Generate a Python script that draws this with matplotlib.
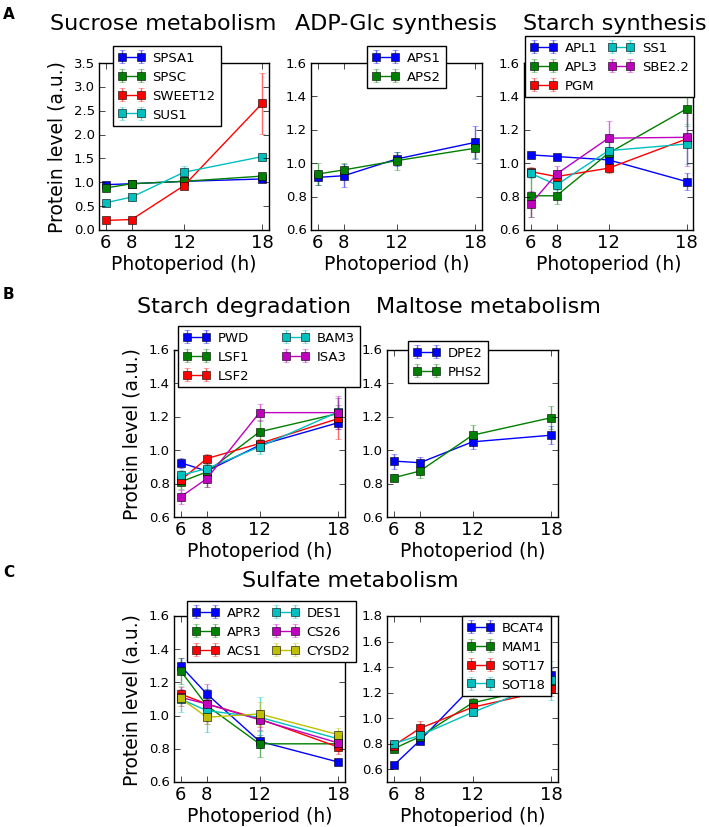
import numpy as np
import matplotlib
matplotlib.use("Agg")
import matplotlib.pyplot as plt

plt.style.use("classic")
plt.rcParams["font.family"] = ["DejaVu Sans"]
plt.rcParams["savefig.facecolor"] = "white"
plt.rcParams["figure.facecolor"] = "white"

W, H = 709, 828

photoperiod = [6, 8, 12, 18]

# --- panel A: sucrose metabolism
sucrose_genes = ["SPSA1", "SPSC", "SWEET12", "SUS1"]
sucrose_vals = [[0.95, 0.97, 1.02, 1.07],
                [0.88, 0.97, 1.02, 1.13],
                [0.20, 0.22, 0.93, 2.66],
                [0.57, 0.69, 1.21, 1.54]]
sucrose_err = [[0.03, 0.02, 0.03, 0.03],
               [0.05, 0.03, 0.05, 0.05],
               [0.03, 0.03, 0.05, 0.64],
               [0.03, 0.03, 0.13, 0.05]]

# --- panel A: ADP-Glc synthesis
adp_genes = ["APS1", "APS2"]
adp_vals = [[0.915, 0.925, 1.025, 1.125],
            [0.935, 0.96, 1.015, 1.09]]
adp_err = [[0.045, 0.07, 0.04, 0.10],
           [0.065, 0.04, 0.055, 0.06]]

# --- panel A: starch synthesis
synth_genes = ["APL1", "APL3", "PGM", "SS1", "SBE2.2"]
synth_vals = [[1.05, 1.04, 1.02, 0.89],
              [0.805, 0.805, 1.06, 1.325],
              [0.95, 0.92, 0.97, 1.145],
              [0.94, 0.87, 1.075, 1.115],
              [0.755, 0.935, 1.15, 1.155]]
synth_err = [[0.02, 0.015, 0.03, 0.05],
             [0.13, 0.05, 0.04, 0.10],
             [0.03, 0.03, 0.03, 0.03],
             [0.03, 0.03, 0.05, 0.12],
             [0.08, 0.05, 0.10, 0.17]]

# --- panel B: starch degradation
degr_genes = ["PWD", "LSF1", "LSF2", "BAM3", "ISA3"]
degr_vals = [[0.925, 0.875, 1.03, 1.165],
             [0.81, 0.87, 1.11, 1.22],
             [0.82, 0.95, 1.04, 1.19],
             [0.85, 0.89, 1.02, 1.23],
             [0.72, 0.83, 1.225, 1.225]]
degr_err = [[0.03, 0.03, 0.03, 0.04],
            [0.04, 0.09, 0.07, 0.05],
            [0.03, 0.03, 0.03, 0.12],
            [0.03, 0.03, 0.04, 0.08],
            [0.04, 0.05, 0.05, 0.10]]

# --- panel B: maltose metabolism
malt_genes = ["DPE2", "PHS2"]
malt_vals = [[0.935, 0.925, 1.05, 1.09],
             [0.835, 0.875, 1.09, 1.195]]
malt_err = [[0.045, 0.035, 0.045, 0.055],
            [0.02, 0.04, 0.06, 0.07]]

# --- panel C: sulfate metabolism
sulf_genes = ["APR2", "APR3", "ACS1", "DES1", "CS26", "CYSD2"]
sulf_vals = [[1.30, 1.13, 0.845, 0.72],
             [1.27, 1.06, 0.83, 0.83],
             [1.13, 1.07, 0.98, 0.81],
             [1.10, 1.03, 0.99, 0.86],
             [1.11, 1.07, 0.975, 0.835],
             [1.105, 0.99, 1.01, 0.885]]
sulf_err = [[0.05, 0.03, 0.04, 0.01],
            [0.08, 0.04, 0.08, 0.03],
            [0.04, 0.04, 0.05, 0.04],
            [0.08, 0.13, 0.12, 0.05],
            [0.05, 0.12, 0.06, 0.04],
            [0.05, 0.04, 0.07, 0.04]]

gluc_genes = ["BCAT4", "MAM1", "SOT17", "SOT18"]
gluc_vals = [[0.63, 0.825, 1.25, 1.34],
             [0.76, 0.855, 1.12, 1.26],
             [0.785, 0.92, 1.085, 1.225],
             [0.80, 0.865, 1.045, 1.295]]
gluc_err = [[0.02, 0.02, 0.05, 0.05],
            [0.02, 0.03, 0.04, 0.06],
            [0.02, 0.06, 0.04, 0.05],
            [0.03, 0.03, 0.03, 0.15]]

colors = ["b", "g", "r", "c", "m", "y"]

fig = plt.figure(figsize=(W / 100, H / 100), dpi=100)


def add_axes_px(x0, y0, x1, y1):
    return fig.add_axes([x0 / W, 1 - y1 / H, (x1 - x0) / W, (y1 - y0) / H])


def draw_panel(ax, genes, vals, errs, ylim, yticks, leg_xy, ncol=1,
               ylabel=True, leg_w=None):
    for i, g in enumerate(genes):
        line, caps, bars = ax.errorbar(photoperiod, vals[i], yerr=errs[i],
                                       color=colors[i], marker="s", ms=6,
                                       mec="k", mew=0.4, lw=1, capsize=2.5,
                                       elinewidth=1, label=g)
        for c in caps:
            c.set_alpha(0.6)
        for b in bars:
            b.set_alpha(0.6)
    ax.set_xlim(5.5, 18.5)
    ax.set_xticks(photoperiod)
    ax.set_ylim(*ylim)
    ax.set_yticks(yticks)
    ax.set_yticklabels(["%.1f" % t for t in yticks])
    ax.tick_params(axis="x", labelsize=13, pad=2)
    ax.tick_params(axis="y", labelsize=9.5, pad=3)
    ax.set_xlabel("Photoperiod (h)", fontsize=13.5, labelpad=2)
    if ylabel:
        ax.set_ylabel("Protein level (a.u.)", fontsize=13.5)
        ax.yaxis.set_label_coords(-0.19, 0.5)
    anchor = (leg_xy[0] / W, 1 - leg_xy[1] / H)
    extra = {}
    if leg_w is not None:
        anchor = (leg_xy[0] / W, 1 - leg_xy[1] / H - 0.2, leg_w / W, 0.2)
        extra["mode"] = "expand"
    leg = ax.legend(loc="upper left", ncol=ncol, fontsize=9.5,
                    bbox_to_anchor=anchor,
                    bbox_transform=fig.transFigure, borderaxespad=0,
                    handlelength=2.0, handletextpad=0.6, columnspacing=0.8,
                    borderpad=0.4, labelspacing=0.45, numpoints=2, **extra)
    leg.get_frame().set_linewidth(1.0)
    leg.set_zorder(10)
    return ax


# row A
axA1 = add_axes_px(99, 64, 269, 231)
draw_panel(axA1, sucrose_genes, sucrose_vals, sucrose_err, (0, 3.5),
           np.arange(0, 3.51, 0.5), (113, 47))
axA2 = add_axes_px(311, 64, 482, 231)
draw_panel(axA2, adp_genes, adp_vals, adp_err, (0.6, 1.6),
           np.arange(0.6, 1.61, 0.2), (367, 47), ylabel=False)
axA3 = add_axes_px(524, 64, 693, 231)
draw_panel(axA3, synth_genes, synth_vals, synth_err, (0.6, 1.6),
           np.arange(0.6, 1.61, 0.2), (525, 37), ncol=2, ylabel=False)

# row B
axB1 = add_axes_px(174, 351, 345, 518)
draw_panel(axB1, degr_genes, degr_vals, degr_err, (0.6, 1.6),
           np.arange(0.6, 1.61, 0.2), (178, 327), ncol=2, leg_w=182)
axB2 = add_axes_px(387, 351, 558, 518)
draw_panel(axB2, malt_genes, malt_vals, malt_err, (0.6, 1.6),
           np.arange(0.6, 1.61, 0.2), (408, 342), ylabel=False)

# row C
axC1 = add_axes_px(174, 617, 345, 783)
draw_panel(axC1, sulf_genes, sulf_vals, sulf_err, (0.6, 1.6),
           np.arange(0.6, 1.61, 0.2), (187, 602), ncol=2)
axC2 = add_axes_px(387, 617, 558, 783)
draw_panel(axC2, gluc_genes, gluc_vals, gluc_err, (0.5, 1.8),
           np.arange(0.6, 1.81, 0.2), (462, 617), ylabel=False)

# titles
title_kw = dict(fontsize=16, ha="center", va="baseline")
fig.text(163 / W, 1 - 30 / H, "Sucrose metabolism", **title_kw)
fig.text(396 / W, 1 - 30 / H, "ADP-Glc synthesis", **title_kw)
fig.text(615 / W, 1 - 30 / H, "Starch synthesis", **title_kw)
fig.text(244 / W, 1 - 313 / H, "Starch degradation", **title_kw)
fig.text(488 / W, 1 - 313 / H, "Maltose metabolism", **title_kw)
fig.text(350 / W, 1 - 587 / H, "Sulfate metabolism", **title_kw)

# panel letters
letter_kw = dict(fontsize=11, fontweight="bold", ha="left", va="top")
fig.text(3 / W, 1 - 7 / H, "A", **letter_kw)
fig.text(3 / W, 1 - 287 / H, "B", **letter_kw)
fig.text(3 / W, 1 - 565 / H, "C", **letter_kw)

fig.savefig("out.png", dpi=100)
